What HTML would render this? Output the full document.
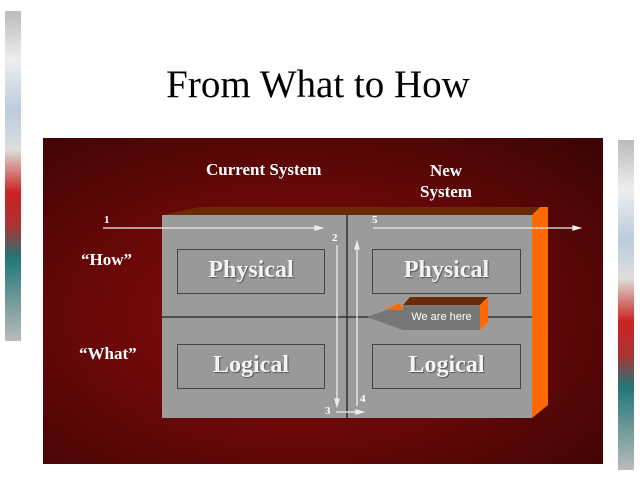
<!DOCTYPE html>
<html><head><style>
body{margin:0;width:640px;height:480px;background:#fff;position:relative;overflow:hidden;font-family:"Liberation Serif",serif}
.a{position:absolute}
.w{color:#fff;font-weight:bold}
.box{position:absolute;border:1px solid #444;background:#999;color:#f4f4f4;font-weight:bold;font-size:24px;text-align:center;line-height:41px;text-shadow:1px 1px 1px #555}
</style></head><body>
<div class="a" style="left:5px;top:11px;width:16px;height:330px;background:linear-gradient(180deg,#bbb 0%,#eee 15%,#bcd 30%,#ddd 42%,#c22 55%,#a33 65%,#277 75%,#bbb 100%)"></div>
<div class="a" style="left:618px;top:140px;width:16px;height:330px;background:linear-gradient(180deg,#bbb 0%,#eee 15%,#bcd 30%,#ddd 42%,#c22 55%,#a33 65%,#277 75%,#bbb 100%)"></div>
<div class="a" style="left:-2px;top:62px;width:640px;text-align:center;font-size:39px;color:#000">From What to How</div>
<div class="a" style="left:43px;top:138px;width:560px;height:326px;background:radial-gradient(ellipse at 45% 55%,#8c0c0c 0%,#6a0808 45%,#3a0404 100%)"></div>
<svg class="a" style="left:0;top:0" width="640" height="480">
<polygon points="162,215 200,207 540,207 532,215" fill="#6a2a08"/>
<polygon points="532,215 540,207 548,207 548,405 532,418" fill="#ff6a00"/>
<rect x="162" y="215" width="370" height="203" fill="#9b9b9b"/>
<line x1="347" y1="215" x2="347" y2="418" stroke="#333" stroke-width="1.5"/>
<line x1="162" y1="317" x2="532" y2="317" stroke="#333" stroke-width="1.5"/>
<g stroke="#eee" stroke-width="1.3" fill="#eee">
<line x1="103" y1="228" x2="318" y2="228"/><polygon points="322,228 315,226 315,230"/>
<line x1="373" y1="228" x2="576" y2="228"/><polygon points="580,228 573,226 573,230"/>
<line x1="337" y1="245" x2="337" y2="402"/><polygon points="337,406 335,399 339,399"/>
<line x1="357" y1="406" x2="357" y2="246"/><polygon points="357,242 355,249 359,249"/>
<line x1="336" y1="412" x2="359" y2="412"/><polygon points="363,412 356,410 356,414"/>
</g>
<polygon points="403,305 410,297 488,297 480,305" fill="#6a2a08"/>
<polygon points="480,305 488,297 488,322 480,330" fill="#ff6a00"/>
<polygon points="385,310 400,303 403,310" fill="#ff6a00"/>
<polygon points="367,317 386,310 403,310 403,330 386,324" fill="#777"/>
<rect x="403" y="305" width="77" height="25" fill="#777"/>
</svg>
<div class="a" style="left:403px;top:305px;width:77px;line-height:24px;text-align:center;color:#fff;font-family:'Liberation Sans',sans-serif;font-size:11px">We are here</div>
<div class="box" style="left:177px;top:249px;width:146px;height:43px">Physical</div>
<div class="box" style="left:372px;top:249px;width:147px;height:43px">Physical</div>
<div class="box" style="left:177px;top:344px;width:146px;height:43px">Logical</div>
<div class="box" style="left:372px;top:344px;width:147px;height:43px">Logical</div>
<div class="a w" style="left:206px;top:160px;font-size:17px">Current System</div>
<div class="a w" style="left:408px;top:160px;width:76px;text-align:center;font-size:17px;line-height:21px">New<br>System</div>
<div class="a w" style="left:81px;top:250px;font-size:17px">“How”</div>
<div class="a w" style="left:79px;top:344px;font-size:17px">“What”</div>
<div class="a w" style="left:104px;top:214px;font-size:11px">1</div>
<div class="a w" style="left:332px;top:232px;font-size:11px">2</div>
<div class="a w" style="left:325px;top:405px;font-size:11px">3</div>
<div class="a w" style="left:360px;top:393px;font-size:11px">4</div>
<div class="a w" style="left:372px;top:214px;font-size:11px">5</div>
</body></html>
